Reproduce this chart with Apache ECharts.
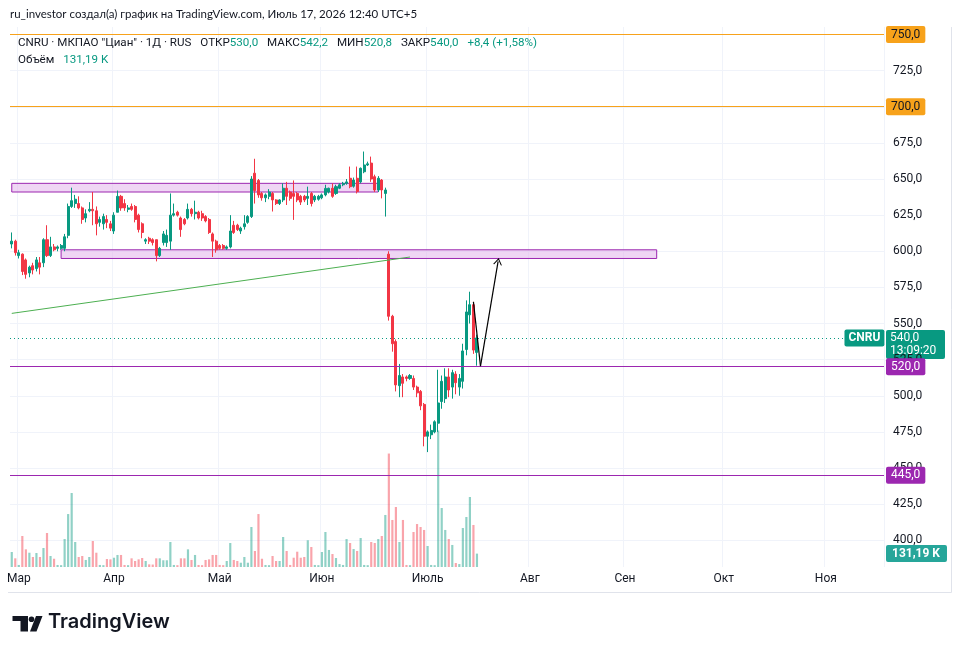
<!DOCTYPE html>
<html>
<head>
<meta charset="utf-8">
<title>CNRU</title>
<script src="https://cdn.jsdelivr.net/npm/echarts@6/dist/echarts.min.js"></script>
<style>
  html, body { margin: 0; padding: 0; background: #fff; }
  #chart { width: 961px; height: 654px; }
</style>
</head>
<body>
<div id="chart"></div>
<script>
// daily bars, [open, high, low, close]
const candles = [
  [605, 613, 602, 607], [607, 608, 597, 599], [597, 601, 595, 599], [598, 598.5, 583.5, 586],
  [594, 595, 581, 584], [585, 590, 582, 589], [590, 592, 584, 587], [588, 596, 586, 594],
  [592, 596, 584, 589], [592, 609, 589, 608], [608, 618, 596, 597], [597, 610, 596, 603],
  [603, 605, 600, 601], [602, 604, 600, 603], [602, 605, 601, 604], [602, 612, 600, 610],
  [611, 633, 609, 631], [631, 644, 630, 635], [633, 639, 630, 636], [633, 638, 629, 630],
  [630, 631, 619, 622], [623, 629, 620, 626], [628, 634, 627, 629], [629, 641, 618, 628],
  [628, 631, 611, 619], [620, 624, 617, 622], [619, 626, 615, 624], [622, 625, 616, 620],
  [619, 621, 614, 616], [614, 627, 612, 625], [627, 642, 627, 638], [638, 639, 628, 630],
  [633, 636, 628, 630], [629, 632, 627, 630], [631, 633, 628, 629], [631, 632, 620, 622],
  [625, 626, 613, 615], [619, 620, 609, 613], [607, 609, 605, 608], [609, 610, 605, 607],
  [608, 609, 604, 606], [608, 608, 593, 597], [597, 603, 596, 602], [606, 614, 604, 612],
  [606, 615, 603, 611], [607, 640, 601, 625], [625, 633, 624, 626], [627, 628, 624, 625],
  [623, 624, 610, 615], [622, 623, 618, 619], [623, 633, 622, 629], [629, 630, 624, 626],
  [626, 635, 622, 627], [627, 628, 622, 623], [626, 628, 621, 623], [624, 625, 620, 621],
  [622, 623, 612, 613], [612, 613, 596, 607], [607, 608, 599, 601], [604, 605, 601, 602],
  [604, 605, 601, 602], [602, 604, 601, 603], [603, 625, 602, 614], [618, 621, 612, 613],
  [618, 619, 614, 615], [614, 617, 612, 616], [617, 625, 615, 619], [620, 625, 619, 624],
  [624, 652, 623, 650], [654, 664, 633, 642], [649, 650, 637, 639], [640, 641, 635, 637],
  [637, 640, 634, 639], [638, 643, 636, 641], [640, 641, 627.5, 635.5], [635.5, 636, 632, 633],
  [633, 636, 632, 635.5], [635.5, 647, 634, 643.6], [643.6, 648, 632, 638], [641, 642, 635, 636.6],
  [640, 649, 621.7, 638], [640, 641, 634, 635.5], [638, 639, 632, 634], [638, 639, 634, 635.5],
  [636.6, 644.7, 632, 638], [640, 641, 631, 633], [635.5, 639, 634, 638], [636, 639, 635, 638],
  [637, 640, 636, 639], [639, 646, 638, 643.5], [641, 644, 640, 643.6], [643.6, 647, 637, 638],
  [640, 646, 639, 644.7], [643.6, 647, 643, 646], [646, 648, 645, 647], [647, 650, 646, 648],
  [650.5, 658.6, 643.6, 644.7], [645, 651, 644, 649.3], [650.5, 658.6, 640, 641.3], [648, 658, 647, 657.4],
  [655, 669, 654, 659.7], [659.7, 662, 659, 660.5], [661, 665.5, 648, 650], [651.6, 653, 641, 642.4],
  [642.4, 652, 641, 650.5], [649.3, 650, 636.6, 642.4], [640, 644, 624, 642.4], [598, 600, 552, 555],
  [555, 556, 530.5, 536], [537.5, 539, 503, 507.5], [507, 522, 499, 514], [513, 515, 499, 508.6],
  [513, 514, 510, 512], [512, 515, 511, 514], [512, 514, 504, 506], [506, 507, 499, 502],
  [503, 504, 490, 493], [494, 495, 465, 472], [472, 476, 461, 475], [473, 480, 470, 476],
  [475, 483, 474, 482], [481, 518, 475, 495], [496, 514, 491, 510], [498, 519, 495, 513],
  [513, 519, 499, 504], [506, 518, 498, 516], [515, 517, 501, 509], [506, 515, 500, 512],
  [510, 536, 505, 531], [532, 566, 528, 558], [556, 572, 550, 563], [563, 565, 529, 531.6],
  [530, 542.2, 520.8, 540]
];

// volume, thousands
const volumes = [
  147, 85, 20, 304, 173, 140, 98, 137, 98, 186, 333, 108, 81, 20, 18, 274, 519, 725, 245, 98,
  108, 69, 98, 255, 140, 20, 18, 78, 75, 91, 118, 118, 20, 18, 85, 59, 75, 88, 59, 26,
  24, 85, 85, 66, 66, 245, 20, 18, 85, 85, 173, 69, 118, 20, 18, 69, 75, 118, 118, 20,
  18, 59, 235, 69, 59, 42, 98, 42, 392, 157, 519, 81, 20, 18, 108, 59, 59, 294, 157, 20,
  91, 150, 91, 98, 262, 196, 20, 18, 147, 343, 167, 127, 88, 29, 20, 274, 235, 176, 157, 284,
  20, 18, 245, 235, 274, 304, 510, 1112, 461, 588, 245, 461, 20, 18, 343, 421, 392, 363, 206, 20,
  18, 1338, 578, 363, 274, 216, 39, 29, 382, 490, 686, 412, 131.19
];

// time axis: slot count (incl. empty future) and month label slots
const slotCount = 248;
const monthNames = ['Мар', 'Апр', 'Май', 'Июн', 'Июль', 'Авг', 'Сен', 'Окт', 'Ноя'];
const monthSlots = [2, 29, 59, 88, 118, 147, 174, 202, 231];

// price axis
const priceMin = 400;
const priceMax = 750;
const priceStep = 25;

// drawn levels
const orangeLevels = [750, 700];
const purpleLevels = [520, 445];
const upperZone = { from: 0, to: 104, low: 641, high: 647 };
const lowerZone = { from: 14, to: 183, low: 595, high: 601 };
const trendLine = [[0, 557], [113, 596]];
const arrowPath = [[131, 565], [133, 520.5], [138, 593]];
const lastTagSlot = 236;
const sessionTime = '13:09:20';

const GREEN = '#089981';
const RED = '#f23645';
const ORANGE = '#f7a21b';
const PURPLE = '#9c27b0';
const TEXT = '#131722';
const GRIDC = '#f0f3fa';
const FONT = "Roboto, 'Noto Sans', sans-serif";
const CLEAR = 'rgba(0,0,0,0)';
const gridLeft = 10, gridRight = 884;

const fmt = (v, d = 1) => v.toFixed(d).replace('.', ',');

const slots = [];
for (let i = 0; i < slotCount; i++) slots.push(String(i));

const last = candles[candles.length - 1];
const prevClose = candles[candles.length - 2][3];
const chg = last[3] - prevClose;
const chgPct = chg / prevClose * 100;
const lastVol = volumes[volumes.length - 1];

const candleData = candles.map(c => [c[0], c[3], c[2], c[1]]);

const chart = echarts.init(document.getElementById('chart'));

const tagLabel = (text, bg, color, extra) => Object.assign({
    show: true, position: 'end', distance: 2, formatter: text,
    color: color, backgroundColor: bg, padding: [3, 5, 2, 5],
    borderRadius: 2, fontSize: 12, fontFamily: FONT
}, extra || {});

// axis tag only; the line itself is drawn crisp below
const levelTag = (v, color, txtColor) => ({
    yAxis: v, lineStyle: { color: CLEAR }, label: tagLabel(fmt(v), color, txtColor)
});

const markLines = [];
orangeLevels.forEach(v => markLines.push(levelTag(v, ORANGE, TEXT)));
purpleLevels.forEach(v => markLines.push(levelTag(v, PURPLE, '#fff')));
// dotted last price line with ticker tag
markLines.push([
    { coord: [0, last[3]], x: gridLeft, lineStyle: { color: GREEN, width: 1, type: [1, 3] } },
    { coord: [lastTagSlot, last[3]], label: tagLabel('CNRU', GREEN, '#fff', { distance: 1, padding: [3, 4, 2, 4], fontWeight: 'bold' }) }
]);
// trend line
markLines.push([
    { coord: trendLine[0], lineStyle: { color: '#4caf50', width: 1, type: 'solid' } },
    { coord: trendLine[1] }
]);
// projected move
markLines.push([
    { coord: arrowPath[0], lineStyle: { color: '#000', width: 1.2, type: 'solid' } },
    { coord: arrowPath[1] }
]);
markLines.push([
    { coord: arrowPath[1], lineStyle: { color: '#000', width: 1.2, type: 'solid' } },
    { coord: arrowPath[2], symbol: 'path://M0,12 L6,0 L12,12 L10.4,12 L6,3.2 L1.6,12 Z', symbolSize: [9, 7] }
]);

const zoneStyle = { color: 'rgba(225,180,235,0.55)', borderColor: PURPLE, borderWidth: 1 };

const baseGraphic = [
    { type: 'line', shape: { x1: 951.5, y1: 27, x2: 951.5, y2: 592.5 }, style: { stroke: '#e0e3eb', lineWidth: 1 } },
    { type: 'line', shape: { x1: 8, y1: 592.5, x2: 951.5, y2: 592.5 }, style: { stroke: '#e0e3eb', lineWidth: 1 } },
    // TradingView logo
    { type: 'rect', shape: { x: 12.5, y: 616, width: 10, height: 5 }, style: { fill: TEXT } },
    { type: 'rect', shape: { x: 20.5, y: 616, width: 7.5, height: 15.5 }, style: { fill: TEXT } },
    { type: 'circle', shape: { cx: 31.5, cy: 619.3, r: 2.8 }, style: { fill: TEXT } },
    { type: 'polygon', shape: { points: [[36, 616], [42.5, 616], [36.5, 631.5], [30, 631.5]] }, style: { fill: TEXT } },
    {
        type: 'text', left: 48, top: 612,
        style: { text: 'TradingView', fill: TEXT, font: '600 20px Inter, Roboto, sans-serif' }
    }
];

chart.setOption({
    animation: false,
    backgroundColor: '#fff',
    textStyle: { fontFamily: FONT },
    title: [
        {
            left: 10, top: 8, padding: 0,
            text: 'ru_investor создал(а) график на TradingView.com, Июль 17, 2026 12:40 UTC+5',
            textStyle: { fontSize: 11.5, fontWeight: 'normal', color: TEXT, fontFamily: "Lato, Roboto, sans-serif" }
        },
        {
            left: 18, top: 35, padding: 0,
            text: '{n|CNRU · МКПАО "Циан" · 1Д · RUS}  {n|ОТКР}{v|' + fmt(last[0]) + '}  {n|МАКС}{v|' + fmt(last[1]) +
                '}  {n|МИН}{v|' + fmt(last[2]) + '}  {n|ЗАКР}{v|' + fmt(last[3]) + '}  {v|+' + fmt(chg) +
                ' (+' + fmt(chgPct, 2) + '%)}\n{n|Объём}  {v|' + fmt(lastVol, 2) + ' K}',
            textStyle: {
                fontWeight: 'normal', lineHeight: 16.5,
                rich: {
                    n: { fontSize: 11.6, color: TEXT, fontFamily: FONT, fontWeight: 'normal', lineHeight: 16.5 },
                    v: { fontSize: 11.6, color: GREEN, fontFamily: FONT, fontWeight: 'normal', lineHeight: 16.5 }
                }
            }
        }
    ],
    grid: [
        { left: gridLeft, right: 961 - gridRight, top: 34.5, bottom: 113.75 },
        { left: gridLeft, right: 961 - gridRight, top: 27, bottom: 87 }
    ],
    xAxis: [
        {
            type: 'category', gridIndex: 0, data: slots, boundaryGap: true,
            axisLine: { show: false }, axisTick: { show: false },
            axisLabel: { show: false }, splitLine: { show: false }
        },
        {
            type: 'category', gridIndex: 1, data: slots, boundaryGap: true,
            axisLine: { show: false }, axisTick: { show: false },
            axisLabel: {
                interval: (idx) => monthSlots.includes(idx),
                formatter: (val) => monthNames[monthSlots.indexOf(Number(val))] || '',
                color: TEXT, fontSize: 12, margin: 6, fontFamily: FONT
            },
            splitLine: {
                show: true,
                interval: (idx) => monthSlots.includes(idx),
                lineStyle: { color: GRIDC, width: 1 }
            }
        }
    ],
    yAxis: [
        {
            type: 'value', gridIndex: 0, position: 'right',
            min: priceMin, max: priceMax, interval: priceStep,
            axisLine: { show: false }, axisTick: { show: false },
            axisLabel: { formatter: v => fmt(v), color: TEXT, fontSize: 12, margin: 9, fontFamily: FONT },
            splitLine: { lineStyle: { color: GRIDC, width: 1 } }
        },
        {
            type: 'value', gridIndex: 1, min: 0, max: 5292, show: false,
            splitLine: { show: false }
        }
    ],
    graphic: baseGraphic,
    series: [
        {
            name: 'Объём',
            type: 'bar',
            xAxisIndex: 1, yAxisIndex: 1, z: 1,
            barWidth: '62%',
            data: volumes,
            itemStyle: {
                color: p => candles[p.dataIndex][3] >= candles[p.dataIndex][0]
                    ? 'rgba(8,153,129,0.45)' : 'rgba(242,54,69,0.45)'
            },
            markLine: {
                silent: true, symbol: 'none', zlevel: 1,
                data: [{
                    yAxis: lastVol, lineStyle: { color: CLEAR },
                    label: tagLabel(fmt(lastVol, 2) + ' K', '#26a69a', '#fff', { padding: [3, 7, 2, 6], fontWeight: 'bold' })
                }]
            }
        },
        {
            name: 'CNRU',
            type: 'candlestick',
            xAxisIndex: 0, yAxisIndex: 0, z: 3,
            barWidth: '72%',
            data: candleData,
            itemStyle: { color: GREEN, color0: RED, borderColor: GREEN, borderColor0: RED, borderWidth: 1 },
            markArea: {
                silent: true,
                data: [
                    [{ xAxis: upperZone.from, yAxis: upperZone.low, itemStyle: zoneStyle }, { xAxis: upperZone.to, yAxis: upperZone.high }],
                    [{ xAxis: lowerZone.from, yAxis: lowerZone.low, itemStyle: zoneStyle }, { xAxis: lowerZone.to, yAxis: lowerZone.high }]
                ]
            },
            markLine: {
                silent: true, symbol: 'none', zlevel: 1,
                label: { show: false },
                data: markLines
            }
        }
    ]
});

// level lines, placed by the price scale and snapped to a whole pixel row
const extraGraphic = [];
const addLevel = (v, color) => {
    const y = Math.floor(chart.convertToPixel({ yAxisIndex: 0 }, v)) + 0.5;
    extraGraphic.push({
        type: 'line', z: 50, silent: true,
        shape: { x1: gridLeft, y1: y, x2: gridRight, y2: y },
        style: { stroke: color, lineWidth: 1 }
    });
};
orangeLevels.forEach(v => addLevel(v, ORANGE));
purpleLevels.forEach(v => addLevel(v, PURPLE));

// last price tag on the price scale, price line through its first row
const yLast = chart.convertToPixel({ yAxisIndex: 0 }, last[3]);
extraGraphic.push({
    type: 'group', zlevel: 2, z: 100, silent: true,
    children: [
        { type: 'rect', shape: { x: gridRight + 2, y: Math.round(yLast) - 8, width: 59, height: 29, r: 2 }, style: { fill: GREEN } },
        { type: 'text', x: gridRight + 6, y: Math.round(yLast) - 7,
          style: { text: fmt(last[3]) + '\n' + sessionTime, fill: '#fff', font: '12px ' + FONT, lineHeight: 13.5 } }
    ]
});
chart.setOption({ graphic: baseGraphic.concat(extraGraphic) });
</script>
</body>
</html>
